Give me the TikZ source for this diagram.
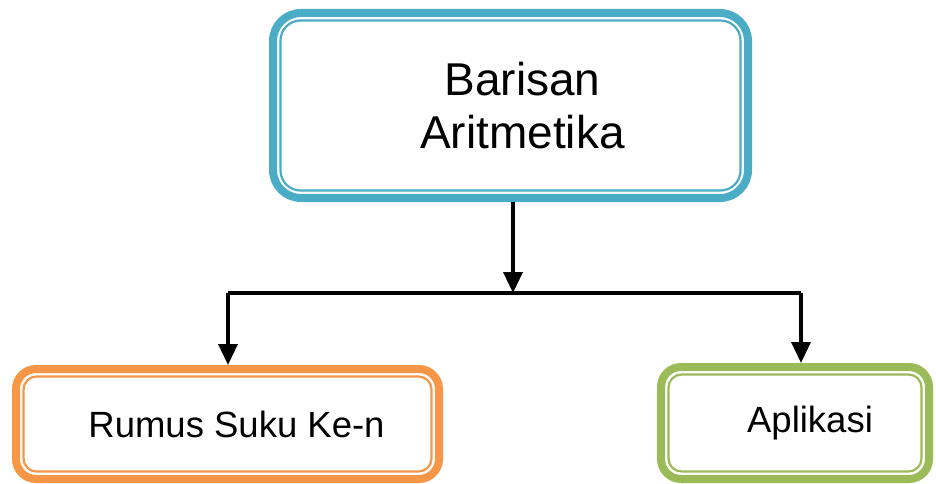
\documentclass[tikz,border=0pt]{standalone}
\usepackage{fontspec}
\setmainfont{Liberation Sans}
\usetikzlibrary{arrows.meta}
\definecolor{aquablue}{RGB}{75,172,198}
\definecolor{offorange}{RGB}{247,150,70}
\definecolor{offgreen}{RGB}{155,187,89}

\tikzset{
  topicbox/.style={draw=#1,line width=8pt,rounded corners=28pt,fill=white,align=center,inner sep=0pt},
  innerline/.style={draw=#1,line width=2.2pt,rounded corners=20pt},
  branch/.style={line width=3.5pt,-{Triangle[width=19pt,length=21pt]}}
}

\begin{document}
\begin{tikzpicture}[x=1pt,y=1pt]
\useasboundingbox (0,0) rectangle (936,-484);
% main topic
\node[topicbox=aquablue,minimum width=475pt,minimum height=185pt,font=\fontsize{46}{53}\selectfont] (barisan) at (510.5,-105.5) {\hspace*{24pt}Barisan\\\hspace*{24pt}Aritmetika};
\draw[innerline=aquablue] ([shift={(11.5,-11.5)}]barisan.north west) rectangle ([shift={(-11.5,11.5)}]barisan.south east);
% sub topics
\node[topicbox=offorange,rounded corners=20pt,minimum width=423pt,minimum height=110pt,font=\fontsize{36.5}{43}\selectfont] (rumus) at (227.5,-424) {\hspace*{18pt}Rumus Suku Ke-n};
\draw[innerline=offorange,rounded corners=13pt] ([shift={(11.5,-11.5)}]rumus.north west) rectangle ([shift={(-11.5,11.5)}]rumus.south east);
\node[topicbox=offgreen,rounded corners=20pt,minimum width=268pt,minimum height=112pt,font=\fontsize{36.5}{43}\selectfont] (aplikasi) at (795,-423) {\hspace*{30pt}Aplikasi};
\draw[innerline=offgreen,rounded corners=13pt] ([shift={(11.5,-11.5)}]aplikasi.north west) rectangle ([shift={(-11.5,11.5)}]aplikasi.south east);
% connectors
\coordinate (split) at ([xshift=2.5pt]barisan.south |- 0,-293);
\draw[branch] ([xshift=2.5pt]barisan.south) -- (split);
\draw[line width=3.5pt] ([xshift=0.5pt]rumus.north |- split) -- ([xshift=6pt]aplikasi.north |- split);
\draw[branch] ([xshift=0.5pt]rumus.north |- split) -- ([xshift=0.5pt]rumus.north);
\draw[branch] ([xshift=6pt]aplikasi.north |- split) -- ([xshift=6pt]aplikasi.north);
\end{tikzpicture}
\end{document}
